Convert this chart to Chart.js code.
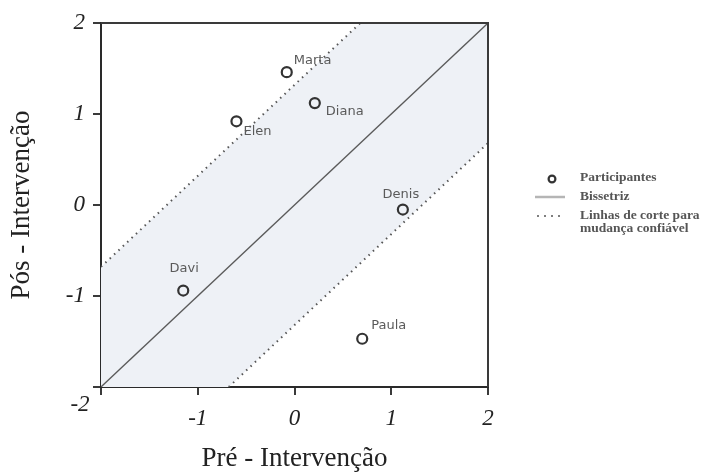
<!DOCTYPE html>
<html>
<head>
<meta charset="utf-8">
<script src="https://cdn.jsdelivr.net/npm/chart.js@4"></script>
<style>
  html, body { margin: 0; padding: 0; background: #fff; }
  #wrap { width: 704px; height: 472px; }
</style>
</head>
<body>
<div id="wrap"><canvas id="rci" width="704" height="472"></canvas></div>
<script>
// =======================
// DADOS
// =======================
const participantes = ["Marta", "Diana", "Elen", "Denis", "Davi", "Paula"];
const preIntervencao = [-0.08, 0.21, -0.60, 1.12, -1.15, 0.70];
const posIntervencao = [1.46, 1.12, 0.92, -0.05, -0.94, -1.47];
const corte = 1.32;              // linhas de corte para mudança confiável
const ticksEixo = [-2, -1, 0, 1, 2];
const legendaTextos = ["Participantes", "Bissetriz", ["Linhas de corte para", "mudança confiável"]];

const minEixo = ticksEixo[0];
const maxEixo = ticksEixo[ticksEixo.length - 1];

// deslocamento dos rótulos em relação a cada ponto (px)
const offsetsRotulo = {
  Marta: [7, -12, "left"],
  Diana: [11, 9, "left"],
  Elen:  [7, 10, "left"],
  Denis: [-2, -15, "center"],
  Davi:  [1, -22, "center"],
  Paula: [9, -13, "left"]
};

const serif = "'Liberation Serif', 'DejaVu Serif', serif";

// =======================
// PLUGIN: moldura, rótulos, legenda
// =======================
const extrasPlugin = {
  id: "extras",
  afterDatasetsDraw(chart) {
    const { ctx, chartArea: a, scales } = chart;
    ctx.save();

    // moldura superior e direita
    ctx.strokeStyle = "#3a3a3a";
    ctx.lineWidth = 2;
    ctx.beginPath();
    ctx.moveTo(a.left, a.top);
    ctx.lineTo(a.right, a.top);
    ctx.lineTo(a.right, a.bottom);
    ctx.stroke();

    // nomes dos participantes
    ctx.font = "13px 'DejaVu Sans', sans-serif";
    ctx.fillStyle = "#5a5a5a";
    ctx.textBaseline = "middle";
    participantes.forEach((nome, i) => {
      const px = scales.x.getPixelForValue(preIntervencao[i]);
      const py = scales.y.getPixelForValue(posIntervencao[i]);
      const [dx, dy, al] = offsetsRotulo[nome];
      ctx.textAlign = al;
      ctx.fillText(nome, px + dx, py + dy);
    });

    // "-2" no canto
    ctx.font = "italic 23px " + serif;
    ctx.fillStyle = "#222";
    ctx.textAlign = "center";
    ctx.fillText(String(minEixo), a.left - 21, a.bottom + 18);

    // legenda
    const lx = 535, tx = 580;
    ctx.font = "bold 13.5px " + serif;
    ctx.fillStyle = "#555";
    ctx.textAlign = "left";

    ctx.beginPath();
    ctx.arc(552, 179, 3.4, 0, Math.PI * 2);
    ctx.strokeStyle = "#333";
    ctx.lineWidth = 2.2;
    ctx.stroke();
    ctx.fillText(legendaTextos[0], tx, 178);

    ctx.beginPath();
    ctx.moveTo(lx, 197);
    ctx.lineTo(lx + 30, 197);
    ctx.strokeStyle = "#b5b5b5";
    ctx.lineWidth = 2.5;
    ctx.stroke();
    ctx.fillText(legendaTextos[1], tx, 197);

    ctx.beginPath();
    ctx.setLineDash([2, 5]);
    ctx.moveTo(lx + 2, 216);
    ctx.lineTo(lx + 30, 216);
    ctx.strokeStyle = "#555";
    ctx.lineWidth = 1.6;
    ctx.stroke();
    ctx.setLineDash([]);
    ctx.fillText(legendaTextos[2][0], tx, 216);
    ctx.fillText(legendaTextos[2][1], tx, 229);

    ctx.restore();
  }
};

// =======================
// CONJUNTOS DE DADOS
// =======================
const pontos = participantes.map((n, i) => ({ x: preIntervencao[i], y: posIntervencao[i] }));

const faixa = [
  { x: minEixo, y: minEixo },
  { x: minEixo, y: minEixo + corte },
  { x: maxEixo - corte, y: maxEixo },
  { x: maxEixo, y: maxEixo },
  { x: maxEixo, y: maxEixo - corte },
  { x: minEixo + corte, y: minEixo }
];

const ctx = document.getElementById("rci").getContext("2d");

new Chart(ctx, {
  type: "scatter",
  data: {
    datasets: [
      {
        label: "faixa",
        data: faixa,
        showLine: true,
        fill: "shape",
        backgroundColor: "#eef1f6",
        borderWidth: 0,
        pointRadius: 0,
        order: 5
      },
      {
        label: "Bissetriz",
        data: [{ x: minEixo, y: minEixo }, { x: maxEixo, y: maxEixo }],
        showLine: true,
        borderColor: "#5a5a5a",
        borderWidth: 1.3,
        pointRadius: 0,
        order: 3
      },
      {
        label: "Corte superior",
        data: [{ x: minEixo, y: minEixo + corte }, { x: maxEixo - corte, y: maxEixo }],
        showLine: true,
        borderColor: "#555",
        borderWidth: 2,
        borderDash: [1.5, 4.5],
        pointRadius: 0,
        order: 2
      },
      {
        label: "Corte inferior",
        data: [{ x: minEixo + corte, y: minEixo }, { x: maxEixo, y: maxEixo - corte }],
        showLine: true,
        borderColor: "#555",
        borderWidth: 2,
        borderDash: [1.5, 4.5],
        pointRadius: 0,
        order: 2
      },
      {
        label: "Participantes",
        data: pontos,
        pointRadius: 5,
        pointBorderWidth: 2.2,
        pointBorderColor: "#333",
        pointBackgroundColor: "rgba(255,255,255,0)",
        order: 1
      }
    ]
  },
  options: {
    responsive: false,
    animation: false,
    layout: { padding: { top: 23, right: 216, left: 0, bottom: 0 } },
    plugins: {
      legend: { display: false },
      tooltip: { enabled: false }
    },
    scales: {
      x: {
        type: "linear",
        min: minEixo,
        max: maxEixo,
        afterFit: (s) => { s.height = 85; },
        afterBuildTicks: (s) => { s.ticks = ticksEixo.map(v => ({ value: v })); },
        ticks: {
          callback: (v) => (v === minEixo ? "" : String(v)),
          font: { family: serif, size: 23, style: "italic" },
          color: "#222",
          padding: 10,
          maxRotation: 0
        },
        grid: { drawOnChartArea: false, tickLength: 8, color: "#3a3a3a", lineWidth: 2 },
        border: { color: "#2a2a2a", width: 2 },
        title: {
          display: true,
          text: "Pré - Intervenção",
          font: { family: serif, size: 27, lineHeight: 1 },
          color: "#222",
          padding: { top: 0, bottom: 0 }
        }
      },
      y: {
        type: "linear",
        min: minEixo,
        max: maxEixo,
        afterFit: (s) => { s.width = 101; },
        afterBuildTicks: (s) => { s.ticks = ticksEixo.map(v => ({ value: v })); },
        ticks: {
          callback: (v) => (v === minEixo ? "" : String(v)),
          font: { family: serif, size: 23, style: "italic" },
          color: "#222",
          padding: 8
        },
        grid: { drawOnChartArea: false, tickLength: 8, color: "#3a3a3a", lineWidth: 2 },
        border: { color: "#2a2a2a", width: 2 },
        title: {
          display: true,
          text: "Pós - Intervenção",
          font: { family: serif, size: 27, lineHeight: 1 },
          color: "#222",
          padding: { top: 8, bottom: 0 }
        }
      }
    }
  },
  plugins: [extrasPlugin]
});
</script>
</body>
</html>
